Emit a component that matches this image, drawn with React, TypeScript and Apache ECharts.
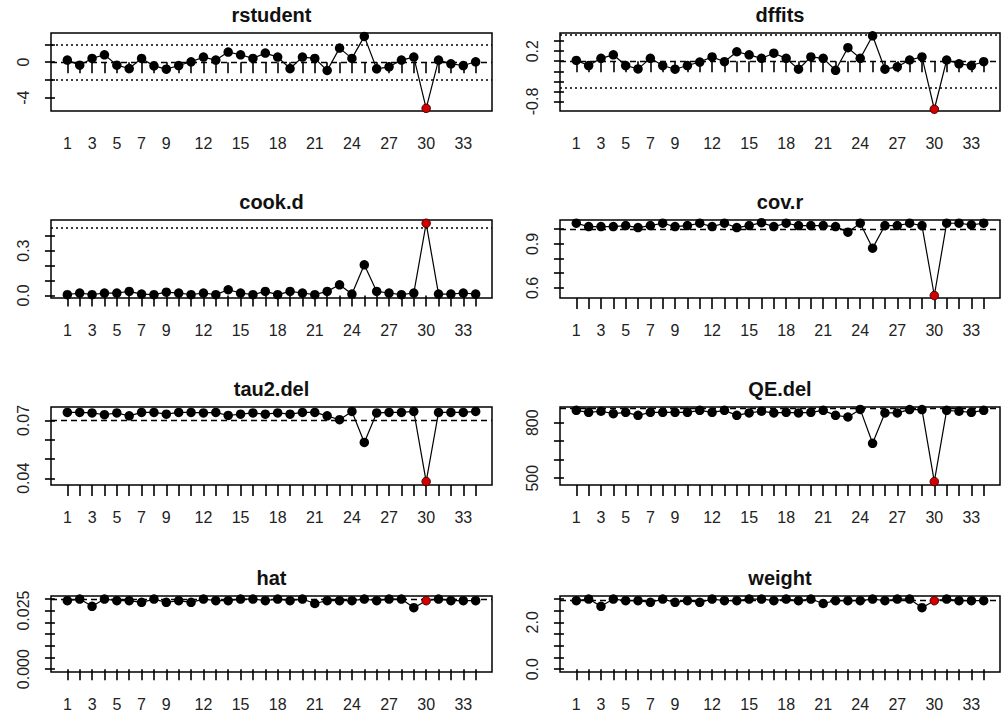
import React, { useEffect, useRef } from "react";
import * as echarts from "echarts";

// ---------- data ----------
const IDS = [1, 2, 3, 4, 5, 6, 7, 8, 9, 10, 11, 12, 13, 14, 15, 16, 17, 18, 19, 20, 21, 22, 23, 24, 25, 26, 27, 28, 29, 30, 31, 32, 33, 34];
const X_LABEL_IDS = [1, 3, 5, 7, 9, 12, 15, 18, 21, 24, 27, 30, 33];
const INFLUENTIAL = [30];

const RSTUDENT = [0.23, -0.34, 0.42, 0.83, -0.34, -0.72, 0.42, -0.42, -0.79, -0.38, 0.04, 0.57, 0.23, 1.13, 0.83, 0.42, 1.02, 0.57, -0.72, 0.57, 0.42, -0.94, 1.58, 0.42, 2.9, -0.75, -0.53, 0.23, 0.57, -5.2, 0.23, -0.19, -0.38, 0.04];
const DFFITS = [0.016, -0.086, 0.057, 0.127, -0.086, -0.153, 0.057, -0.086, -0.159, -0.086, -0.016, 0.086, -0.01, 0.188, 0.127, 0.057, 0.159, 0.057, -0.159, 0.086, 0.057, -0.18, 0.269, 0.057, 0.506, -0.159, -0.112, 0.024, 0.086, -0.955, 0.024, -0.051, -0.086, -0.01];
const COOK_D = [0.005, 0.016, 0.005, 0.016, 0.016, 0.027, 0.009, 0.005, 0.022, 0.016, 0.005, 0.016, 0.005, 0.038, 0.016, 0.005, 0.027, 0.005, 0.027, 0.016, 0.005, 0.027, 0.071, 0.009, 0.205, 0.027, 0.016, 0.005, 0.016, 0.483, 0.009, 0.009, 0.016, 0.009];
const COV_R = [1.041, 1.018, 1.018, 1.018, 1.025, 1.011, 1.025, 1.041, 1.018, 1.025, 1.041, 1.018, 1.041, 1.011, 1.025, 1.045, 1.018, 1.041, 1.025, 1.025, 1.025, 1.018, 0.98, 1.041, 0.871, 1.025, 1.025, 1.041, 1.025, 0.548, 1.041, 1.041, 1.03, 1.041];
const TAU2_DEL = [0.0742, 0.0742, 0.0739, 0.073, 0.0739, 0.0724, 0.0742, 0.0742, 0.0733, 0.0742, 0.0742, 0.0739, 0.0742, 0.0726, 0.0733, 0.0739, 0.0733, 0.0739, 0.0733, 0.0742, 0.0742, 0.0724, 0.0704, 0.0747, 0.0586, 0.0739, 0.0742, 0.0742, 0.0747, 0.0383, 0.0742, 0.0742, 0.0742, 0.0747];
const QE_DEL = [867, 856, 862, 849, 856, 840, 856, 856, 856, 856, 867, 856, 867, 840, 853, 862, 853, 856, 853, 856, 867, 840, 831, 872, 689, 853, 853, 871, 871, 482, 867, 862, 856, 867];
const HAT = [0.0292, 0.0299, 0.0268, 0.0299, 0.0292, 0.0292, 0.0285, 0.0299, 0.0285, 0.0292, 0.0285, 0.0299, 0.0292, 0.0292, 0.0299, 0.0299, 0.0292, 0.0299, 0.0292, 0.0299, 0.028, 0.0292, 0.0292, 0.0292, 0.0299, 0.0292, 0.0299, 0.0299, 0.0262, 0.0292, 0.0299, 0.0292, 0.0292, 0.0292];
const WEIGHT = [2.92, 2.99, 2.68, 2.99, 2.92, 2.92, 2.85, 2.99, 2.85, 2.92, 2.85, 2.99, 2.92, 2.92, 2.99, 2.99, 2.92, 2.99, 2.92, 2.99, 2.8, 2.92, 2.92, 2.92, 2.99, 2.92, 2.99, 2.99, 2.62, 2.92, 2.99, 2.92, 2.92, 2.92];

// y-axis ticks / labels
const RSTUDENT_TICKS = [-4, -2, 0, 2];
const RSTUDENT_LABELS = [0, -4];
const DFFITS_TICKS = [-0.8, -0.6, -0.4, -0.2, 0, 0.2, 0.4];
const DFFITS_LABELS = [0.2, -0.8];
const COOK_TICKS = [0, 0.1, 0.2, 0.3, 0.4];
const COOK_LABELS = [0, 0.3];
const COVR_TICKS = [0.6, 0.7, 0.8, 0.9, 1.0];
const COVR_LABELS = [0.6, 0.9];
const TAU2_TICKS = [0.04, 0.05, 0.06, 0.07];
const TAU2_LABELS = [0.04, 0.07];
const QE_TICKS = [500, 600, 700, 800];
const QE_LABELS = [500, 800];
const HAT_TICKS = [0, 0.005, 0.01, 0.015, 0.02, 0.025, 0.03];
const HAT_LABELS = [0, 0.025];
const WEIGHT_TICKS = [0, 0.5, 1, 1.5, 2, 2.5, 3];
const WEIGHT_LABELS = [0, 2];

// reference lines
const RSTUDENT_REF = { dashed: [0], dotted: [1.96, -1.96] };
const DFFITS_REF = { dashed: [0], dotted: [0.522, -0.522] };
const COOK_REF = { dashed: [], dotted: [0.4549] };
const COVR_REF = { dashed: [1], dotted: [] };
const TAU2_REF = { dashed: [0.0726], dotted: [] };
const QE_REF = { dashed: [878], dotted: [] };
const HAT_REF = { dashed: [0.0294], dotted: [] };
const WEIGHT_REF = { dashed: [2.94], dotted: [] };

// ---------- layout ----------
const FONT = '"Liberation Sans", Arial, Helvetica, sans-serif';
const COL_LEFT = [51, 560];
const COL_WIDTH = [441, 440];
const ROW_TOP = [33, 220, 407, 596];
const ROW_HEIGHT = [78, 78, 78, 76];

const PANELS = [
  { title: "rstudent", values: RSTUDENT, min: -5.5, max: 3.28, ticks: RSTUDENT_TICKS, labels: RSTUDENT_LABELS, dec: 0, ref: RSTUDENT_REF },
  { title: "dffits", values: DFFITS, min: -0.99, max: 0.561, ticks: DFFITS_TICKS, labels: DFFITS_LABELS, dec: 1, ref: DFFITS_REF },
  { title: "cook.d", values: COOK_D, min: -0.0173, max: 0.505, ticks: COOK_TICKS, labels: COOK_LABELS, dec: 1, ref: COOK_REF },
  { title: "cov.r", values: COV_R, min: 0.531, max: 1.063, ticks: COVR_TICKS, labels: COVR_LABELS, dec: 1, ref: COVR_REF },
  { title: "tau2.del", values: TAU2_DEL, min: 0.0365, max: 0.077, ticks: TAU2_TICKS, labels: TAU2_LABELS, dec: 2, ref: TAU2_REF },
  { title: "QE.del", values: QE_DEL, min: 463.5, max: 885, ticks: QE_TICKS, labels: QE_LABELS, dec: 0, ref: QE_REF },
  { title: "hat", values: HAT, min: -0.0012, max: 0.0312, ticks: HAT_TICKS, labels: HAT_LABELS, dec: 3, ref: HAT_REF },
  { title: "weight", values: WEIGHT, min: -0.12, max: 3.12, ticks: WEIGHT_TICKS, labels: WEIGHT_LABELS, dec: 1, ref: WEIGHT_REF },
];

function buildOption() {
  const grid: any[] = [];
  const xAxis: any[] = [];
  const yAxis: any[] = [];
  const series: any[] = [];
  const graphic: any[] = [];

  PANELS.forEach((p, i) => {
    const col = i % 2;
    const row = Math.floor(i / 2);
    const left = COL_LEFT[col];
    const width = COL_WIDTH[col];
    const top = ROW_TOP[row];
    const height = ROW_HEIGHT[row];

    grid.push({
      left, top, width, height,
      show: true,
      borderColor: "#000",
      borderWidth: 1.5,
      backgroundColor: "transparent",
      containLabel: false,
    });

    xAxis.push({
      type: "value",
      gridIndex: i,
      min: -0.32,
      max: 35.32,
      axisLine: { show: false },
      splitLine: { show: false },
      axisTick: { show: true, customValues: IDS, length: 11, lineStyle: { color: "#000", width: 1.6 } },
      axisLabel: {
        customValues: X_LABEL_IDS,
        margin: 24,
        fontSize: 16,
        color: "#222",
        fontFamily: FONT,
      },
    });

    yAxis.push({
      type: "value",
      gridIndex: i,
      min: p.min,
      max: p.max,
      axisLine: { show: false },
      splitLine: { show: false },
      axisTick: { show: true, customValues: p.ticks, length: 10, lineStyle: { color: "#000", width: 1.6 } },
      axisLabel: {
        customValues: p.labels,
        rotate: 90,
        margin: 20,
        fontSize: 16,
        color: "#222",
        fontFamily: FONT,
        formatter: (v: number) => Number(v).toFixed(p.dec),
      },
    });

    const markData: any[] = [];
    p.ref.dashed.forEach((y: number) =>
      markData.push({ yAxis: y, lineStyle: { type: [6, 4], color: "#000", width: 1.3 } })
    );
    p.ref.dotted.forEach((y: number) =>
      markData.push({ yAxis: y, lineStyle: { type: [2, 3], color: "#000", width: 1.6 } })
    );

    series.push({
      type: "line",
      xAxisIndex: i,
      yAxisIndex: i,
      clip: false,
      symbol: "circle",
      symbolSize: 9.5,
      lineStyle: { color: "#000", width: 1.2 },
      itemStyle: { color: "#000" },
      z: 3,
      data: IDS.map((id, k) =>
        INFLUENTIAL.includes(id)
          ? { value: [id, p.values[k]], symbolSize: 8.5, itemStyle: { color: "#d00000", borderColor: "#400", borderWidth: 1 } }
          : [id, p.values[k]]
      ),
      markLine: {
        silent: true,
        symbol: "none",
        label: { show: false },
        z: 2,
        data: markData,
      },
    });

    graphic.push({
      type: "text",
      x: left + width / 2,
      y: top - 18,
      style: {
        text: p.title,
        font: `bold 20px ${FONT}`,
        fill: "#111",
        align: "center",
        verticalAlign: "middle",
      },
    });
  });

  return {
    animation: false,
    backgroundColor: "#fff",
    grid,
    xAxis,
    yAxis,
    series,
    graphic,
  };
}

export default function App() {
  const ref = useRef<HTMLDivElement>(null);
  useEffect(() => {
    document.body.style.margin = "0";
    if (!ref.current) return;
    const chart = echarts.init(ref.current, undefined, { renderer: "svg" });
    chart.setOption(buildOption() as any);
    return () => chart.dispose();
  }, []);
  return <div ref={ref} style={{ width: 1008, height: 726 }} />;
}
